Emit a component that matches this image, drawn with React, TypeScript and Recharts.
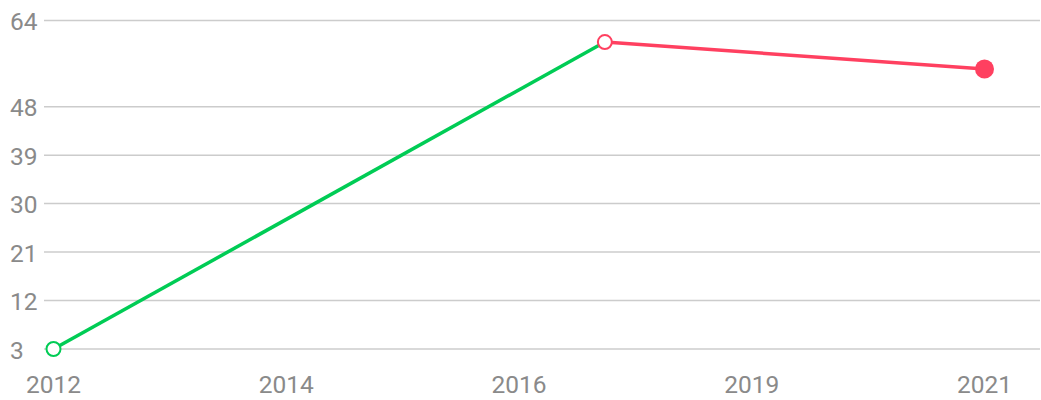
import { CartesianGrid, Line, LineChart, XAxis, YAxis } from 'recharts';

// valeurs
const years = [2012, 2017.33, 2021];
const greenValues: (number | null)[] = [3, 60, null];
const redValues: (number | null)[] = [null, 60, 55];

const yTicks = [3, 12, 21, 30, 39, 48, 64];
const xTicks = [2012, 2014.25, 2016.5, 2018.75, 2021];
const xTickLabels = ['2012', '2014', '2016', '2019', '2021'];

const GREEN = '#00cc55';
const RED = '#ff4060';
const TEXT = '#8a8a8a';
const FONT = 'Roboto, "DejaVu Sans", sans-serif';

const data = years.map((x, i) => ({ x, green: greenValues[i], red: redValues[i] }));

function YTick(props: any) {
  const { y, payload } = props;
  return (
    <text x={10} y={y} dy={1} textAnchor="start" dominantBaseline="central" fill={TEXT} fontSize={24.5} fontFamily={FONT}>
      {payload.value}
    </text>
  );
}

function XTick(props: any) {
  const { x, payload, index } = props;
  return (
    <text x={x} y={384} textAnchor="middle" dominantBaseline="central" fill={TEXT} fontSize={24.5} fontFamily={FONT}>
      {xTickLabels[index] ?? payload.value}
    </text>
  );
}

function GreenDot(props: any) {
  const { cx, cy, index, value } = props;
  if (value == null || index !== 0) return <g key={`g${index}`} />;
  return <circle key={`g${index}`} cx={cx} cy={cy} r={7} fill="#fff" stroke={GREEN} strokeWidth={2} />;
}

function RedDot(props: any) {
  const { cx, cy, index, value } = props;
  if (value == null) return <g key={`r${index}`} />;
  if (index === years.length - 1) {
    return <circle key={`r${index}`} cx={cx} cy={cy} r={9.5} fill={RED} />;
  }
  return <circle key={`r${index}`} cx={cx} cy={cy} r={7} fill="#fff" stroke={RED} strokeWidth={2} />;
}

export default function App() {
  return (
    <div style={{ position: 'absolute', left: 0, top: 0, width: 1041, height: 400, background: '#fff' }}>
      <LineChart width={1041} height={400} data={data} margin={{ top: 20.5, right: 1, bottom: 0, left: 0 }}>
        <CartesianGrid vertical={false} stroke="#cccccc" strokeWidth={1.5} />
        <XAxis
          dataKey="x"
          type="number"
          domain={[2012, 2021]}
          ticks={xTicks}
          tick={<XTick />}
          axisLine={false}
          tickLine={false}
          height={51}
          padding={{ left: 9.5, right: 55.5 }}
          interval={0}
        />
        <YAxis
          type="number"
          domain={[3, 64]}
          ticks={yTicks}
          tick={<YTick />}
          axisLine={false}
          tickLine={false}
          width={44}
          interval={0}
        />
        <Line dataKey="green" stroke={GREEN} strokeWidth={3.5} dot={<GreenDot />} activeDot={false} isAnimationActive={false} connectNulls={false} />
        <Line dataKey="red" stroke={RED} strokeWidth={3.5} dot={<RedDot />} activeDot={false} isAnimationActive={false} connectNulls={false} />
      </LineChart>
    </div>
  );
}
